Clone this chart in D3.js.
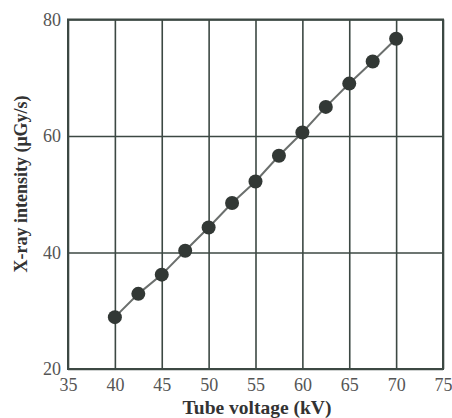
<!DOCTYPE html>
<html>
<head>
<meta charset="utf-8">
<script src="https://cdn.jsdelivr.net/npm/d3@7"></script>
<style>
  body { margin: 0; background: #fff; }
  svg { display: block; }
</style>
</head>
<body>
<main></main>
<script>
// Data
const voltages = [40, 42.5, 45, 47.5, 50, 52.5, 55, 57.5, 60, 62.5, 65, 67.5, 70];
const intensities = [28.9, 32.9, 36.2, 40.3, 44.3, 48.5, 52.2, 56.6, 60.6, 65.0, 69.0, 72.8, 76.7];
const xTicks = [35, 40, 45, 50, 55, 60, 65, 70, 75];
const yTicks = [20, 40, 60, 80];

// Set dimensions
const w = 452;
const h = 418;
const plotLeft = 68;
const plotRight = 443;
const plotTop = 19.5;
const plotBottom = 369;

const svg = d3
  .select("main")
  .append("svg")
  .attr("width", w)
  .attr("height", h)
  .attr("viewBox", `0 0 ${w} ${h}`);

// Scales
const xScale = d3.scaleLinear().domain([35, 75]).range([plotLeft, plotRight]);
const yScale = d3.scaleLinear().domain([20, 80]).range([plotBottom, plotTop]);

const gridColor = "#3c4843";
const serif = "'Liberation Serif', 'DejaVu Serif', serif";

// Vertical grid lines
svg
  .append("g")
  .attr("transform", `translate(0, ${plotBottom})`)
  .call(d3.axisBottom(xScale).tickValues(xTicks).tickFormat("").tickSize(-(plotBottom - plotTop)).tickSizeOuter(0))
  .call((g) => g.select(".domain").remove())
  .call((g) => g.selectAll("line").attr("stroke", gridColor).attr("stroke-width", 1.6));

// Horizontal grid lines
svg
  .append("g")
  .attr("transform", `translate(${plotLeft}, 0)`)
  .call(d3.axisLeft(yScale).tickValues(yTicks).tickFormat("").tickSize(-(plotRight - plotLeft)).tickSizeOuter(0))
  .call((g) => g.select(".domain").remove())
  .call((g) => g.selectAll("line").attr("stroke", gridColor).attr("stroke-width", 1.6));

// Frame
svg
  .append("rect")
  .attr("x", plotLeft)
  .attr("y", plotTop)
  .attr("width", plotRight - plotLeft)
  .attr("height", plotBottom - plotTop)
  .attr("fill", "none")
  .attr("stroke", gridColor)
  .attr("stroke-width", 2);

// X tick labels
svg
  .append("g")
  .attr("transform", `translate(0, ${plotBottom})`)
  .call(d3.axisBottom(xScale).tickValues(xTicks).tickSize(0).tickPadding(9))
  .call((g) => g.select(".domain").remove())
  .call((g) =>
    g.selectAll("text")
      .attr("font-family", serif)
      .attr("font-size", 18)
      .attr("fill", "#555")
  );

// Y tick labels
svg
  .append("g")
  .attr("transform", `translate(${plotLeft}, 0)`)
  .call(d3.axisLeft(yScale).tickValues(yTicks).tickSize(0).tickPadding(7))
  .call((g) => g.select(".domain").remove())
  .call((g) =>
    g.selectAll("text")
      .attr("font-family", serif)
      .attr("font-size", 18)
      .attr("fill", "#555")
  );

// Axis titles
svg
  .append("text")
  .attr("x", 257)
  .attr("y", 414)
  .attr("text-anchor", "middle")
  .attr("font-family", serif)
  .attr("font-weight", "bold")
  .attr("font-size", 19.5)
  .attr("fill", "#333")
  .text("Tube voltage (kV)");

svg
  .append("text")
  .attr("transform", `translate(27, 184) rotate(-90)`)
  .attr("text-anchor", "middle")
  .attr("font-family", serif)
  .attr("font-weight", "bold")
  .attr("font-size", 18)
  .attr("fill", "#333")
  .text("X-ray intensity (μGy/s)");

// Data
const data = voltages.map((v, i) => ({ v, y: intensities[i] }));

const line = d3
  .line()
  .x((d) => xScale(d.v))
  .y((d) => yScale(d.y));

svg
  .append("path")
  .datum(data)
  .attr("d", line)
  .attr("fill", "none")
  .attr("stroke", "#6b6f6d")
  .attr("stroke-width", 2);

svg
  .selectAll("circle.dot")
  .data(data)
  .enter()
  .append("circle")
  .attr("class", "dot")
  .attr("cx", (d) => xScale(d.v))
  .attr("cy", (d) => yScale(d.y))
  .attr("r", 7)
  .attr("fill", "#323835");
</script>
</body>
</html>
